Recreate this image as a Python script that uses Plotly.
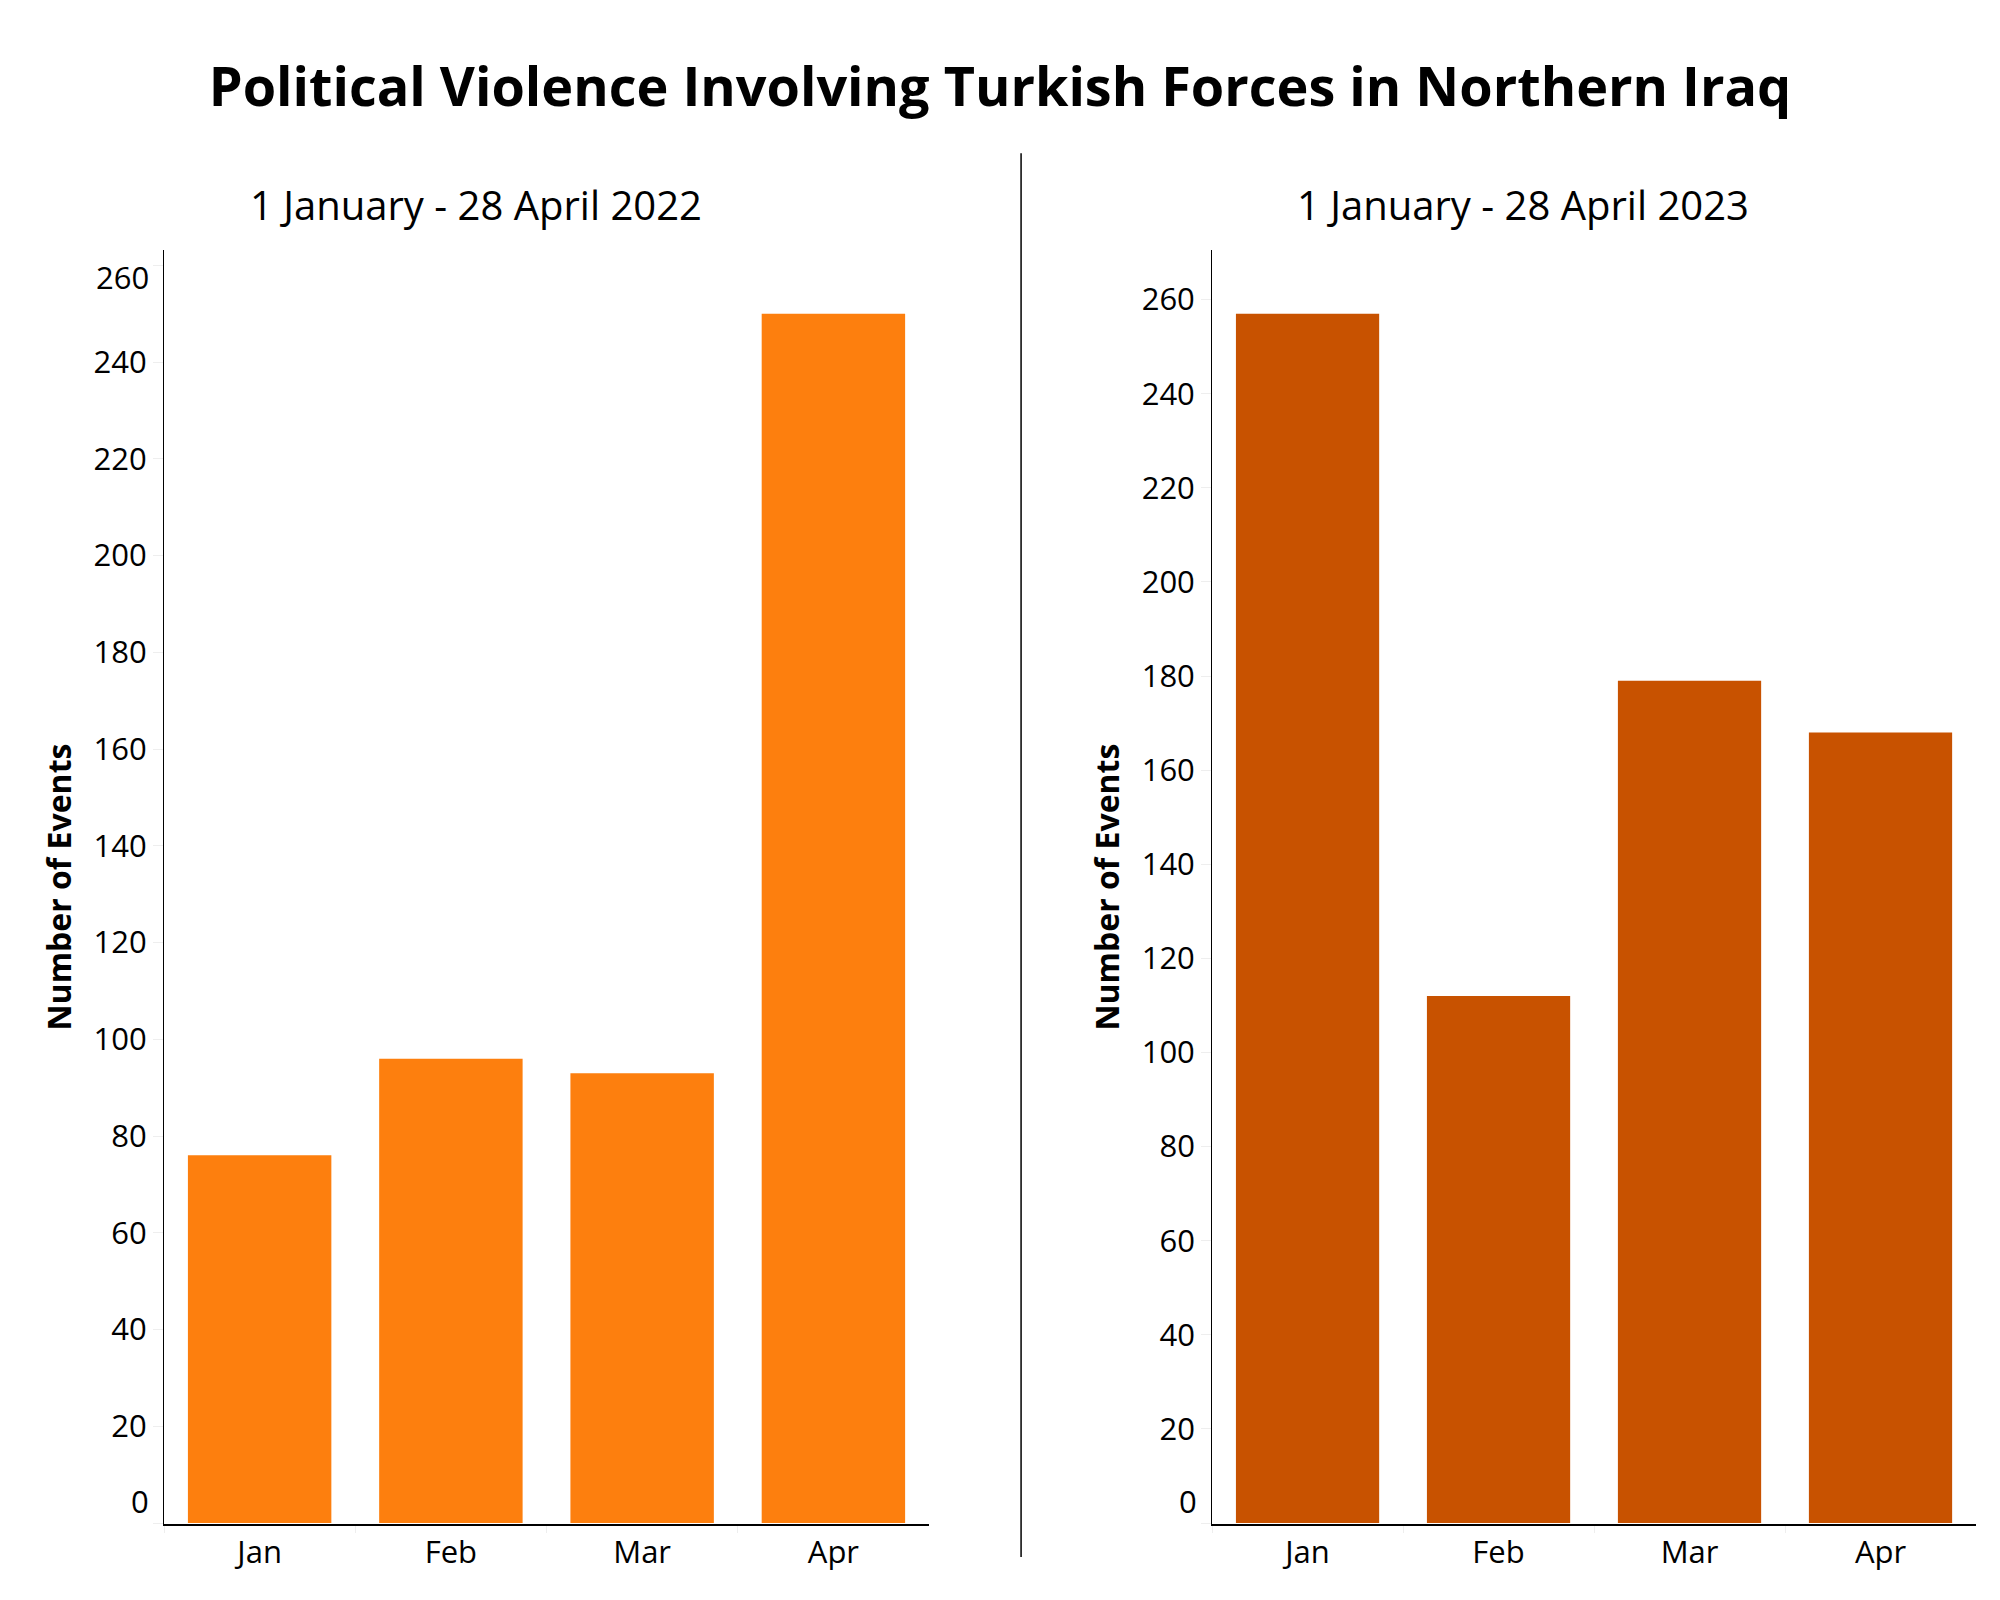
import plotly.graph_objects as go
from plotly.subplots import make_subplots

months = ["Jan", "Feb", "Mar", "Apr"]
events_2022 = [76, 96, 93, 250]
events_2023 = [257, 112, 179, 168]

title_text = "Political Violence Involving Turkish Forces in Northern Iraq"
subtitle_2022 = "1 January - 28 April 2022"
subtitle_2023 = "1 January - 28 April 2023"
yaxis_title = "Number of Events"

left_ticks = list(range(20, 260, 20))       # 20..240 drawn by axis
right_ticks = list(range(20, 280, 20))      # 20..260 drawn by axis

color_2022 = "#FD7F0E"
color_2023 = "#C85200"

fig = make_subplots(rows=1, cols=2, horizontal_spacing=0.1562)
fig.add_trace(go.Bar(x=months, y=events_2022, marker_color=color_2022,
                     marker_line_width=0, showlegend=False), row=1, col=1)
fig.add_trace(go.Bar(x=months, y=events_2023, marker_color=color_2023,
                     marker_line_width=0, showlegend=False), row=1, col=2)

font_family = "Open Sans"
tick_font = dict(size=31, color="black", family=font_family)
axis_common_x = dict(showline=True, linecolor="black", linewidth=2,
                     ticks="outside", tickson="boundaries", ticklen=7,
                     tickcolor="#eeeeee", showgrid=False, zeroline=False,
                     tickfont=tick_font)
axis_common_y = dict(showline=True, linecolor="black", linewidth=1,
                     ticks="outside", ticklen=10, tickcolor="#eeeeee",
                     showgrid=False, zeroline=False,
                     tickfont=tick_font,
                     title=dict(text="<b>" + yaxis_title + "</b>", standoff=12,
                                font=dict(size=32, color="black", family=font_family)))

fig.update_xaxes(**axis_common_x)
fig.update_yaxes(**axis_common_y)
fig.update_layout(
    xaxis=dict(domain=[0, 0.4222]), xaxis2=dict(domain=[0.5784, 1]),
    yaxis=dict(tickmode="array", tickvals=[0] + left_ticks + [260],
               ticktext=[""] + [str(v) for v in left_ticks] + [""]),
    yaxis2=dict(tickmode="array", tickvals=[0] + right_ticks,
                ticktext=[""] + [str(v) for v in right_ticks]),
)

# end tick labels (nudged inside the plot height, as in the original)
end_labels = [
    dict(text="0", xref="paper", yref="y", x=0, y=0, yshift=22),
    dict(text="260", xref="paper", yref="y", x=0, y=260, yshift=-12),
    dict(text="0", xref="paper", yref="y2", x=0.5784, y=0, yshift=22),
]
annotations = []
for a in end_labels:
    a.update(xanchor="right", yanchor="middle", xshift=-13, showarrow=False,
             font=tick_font)
    annotations.append(a)

annotations += [
    dict(text=subtitle_2022, xref="paper", yref="paper", x=0.172, y=1.036,
         xanchor="center", yanchor="middle", showarrow=False,
         font=dict(size=40, color="black", family=font_family)),
    dict(text=subtitle_2023, xref="paper", yref="paper", x=0.750, y=1.036,
         xanchor="center", yanchor="middle", showarrow=False,
         font=dict(size=40, color="black", family=font_family)),
]

fig.update_layout(
    width=2000, height=1600,
    margin=dict(l=164, r=24, t=250, b=76, autoexpand=False),
    paper_bgcolor="white", plot_bgcolor="white",
    bargap=0.25,
    font=dict(family=font_family, color="black"),
    title=dict(text="<b>" + title_text + "</b>", x=0.5, xanchor="center",
               y=1 - 87 / 1600, yanchor="middle",
               font=dict(size=54, color="black", family=font_family)),
    annotations=annotations,
    shapes=[dict(type="line", xref="paper", yref="paper", x0=0.473, x1=0.473,
                 y0=-0.026, y1=1.076, line=dict(color="black", width=1.5))],
)

fig.write_html("out.html")
